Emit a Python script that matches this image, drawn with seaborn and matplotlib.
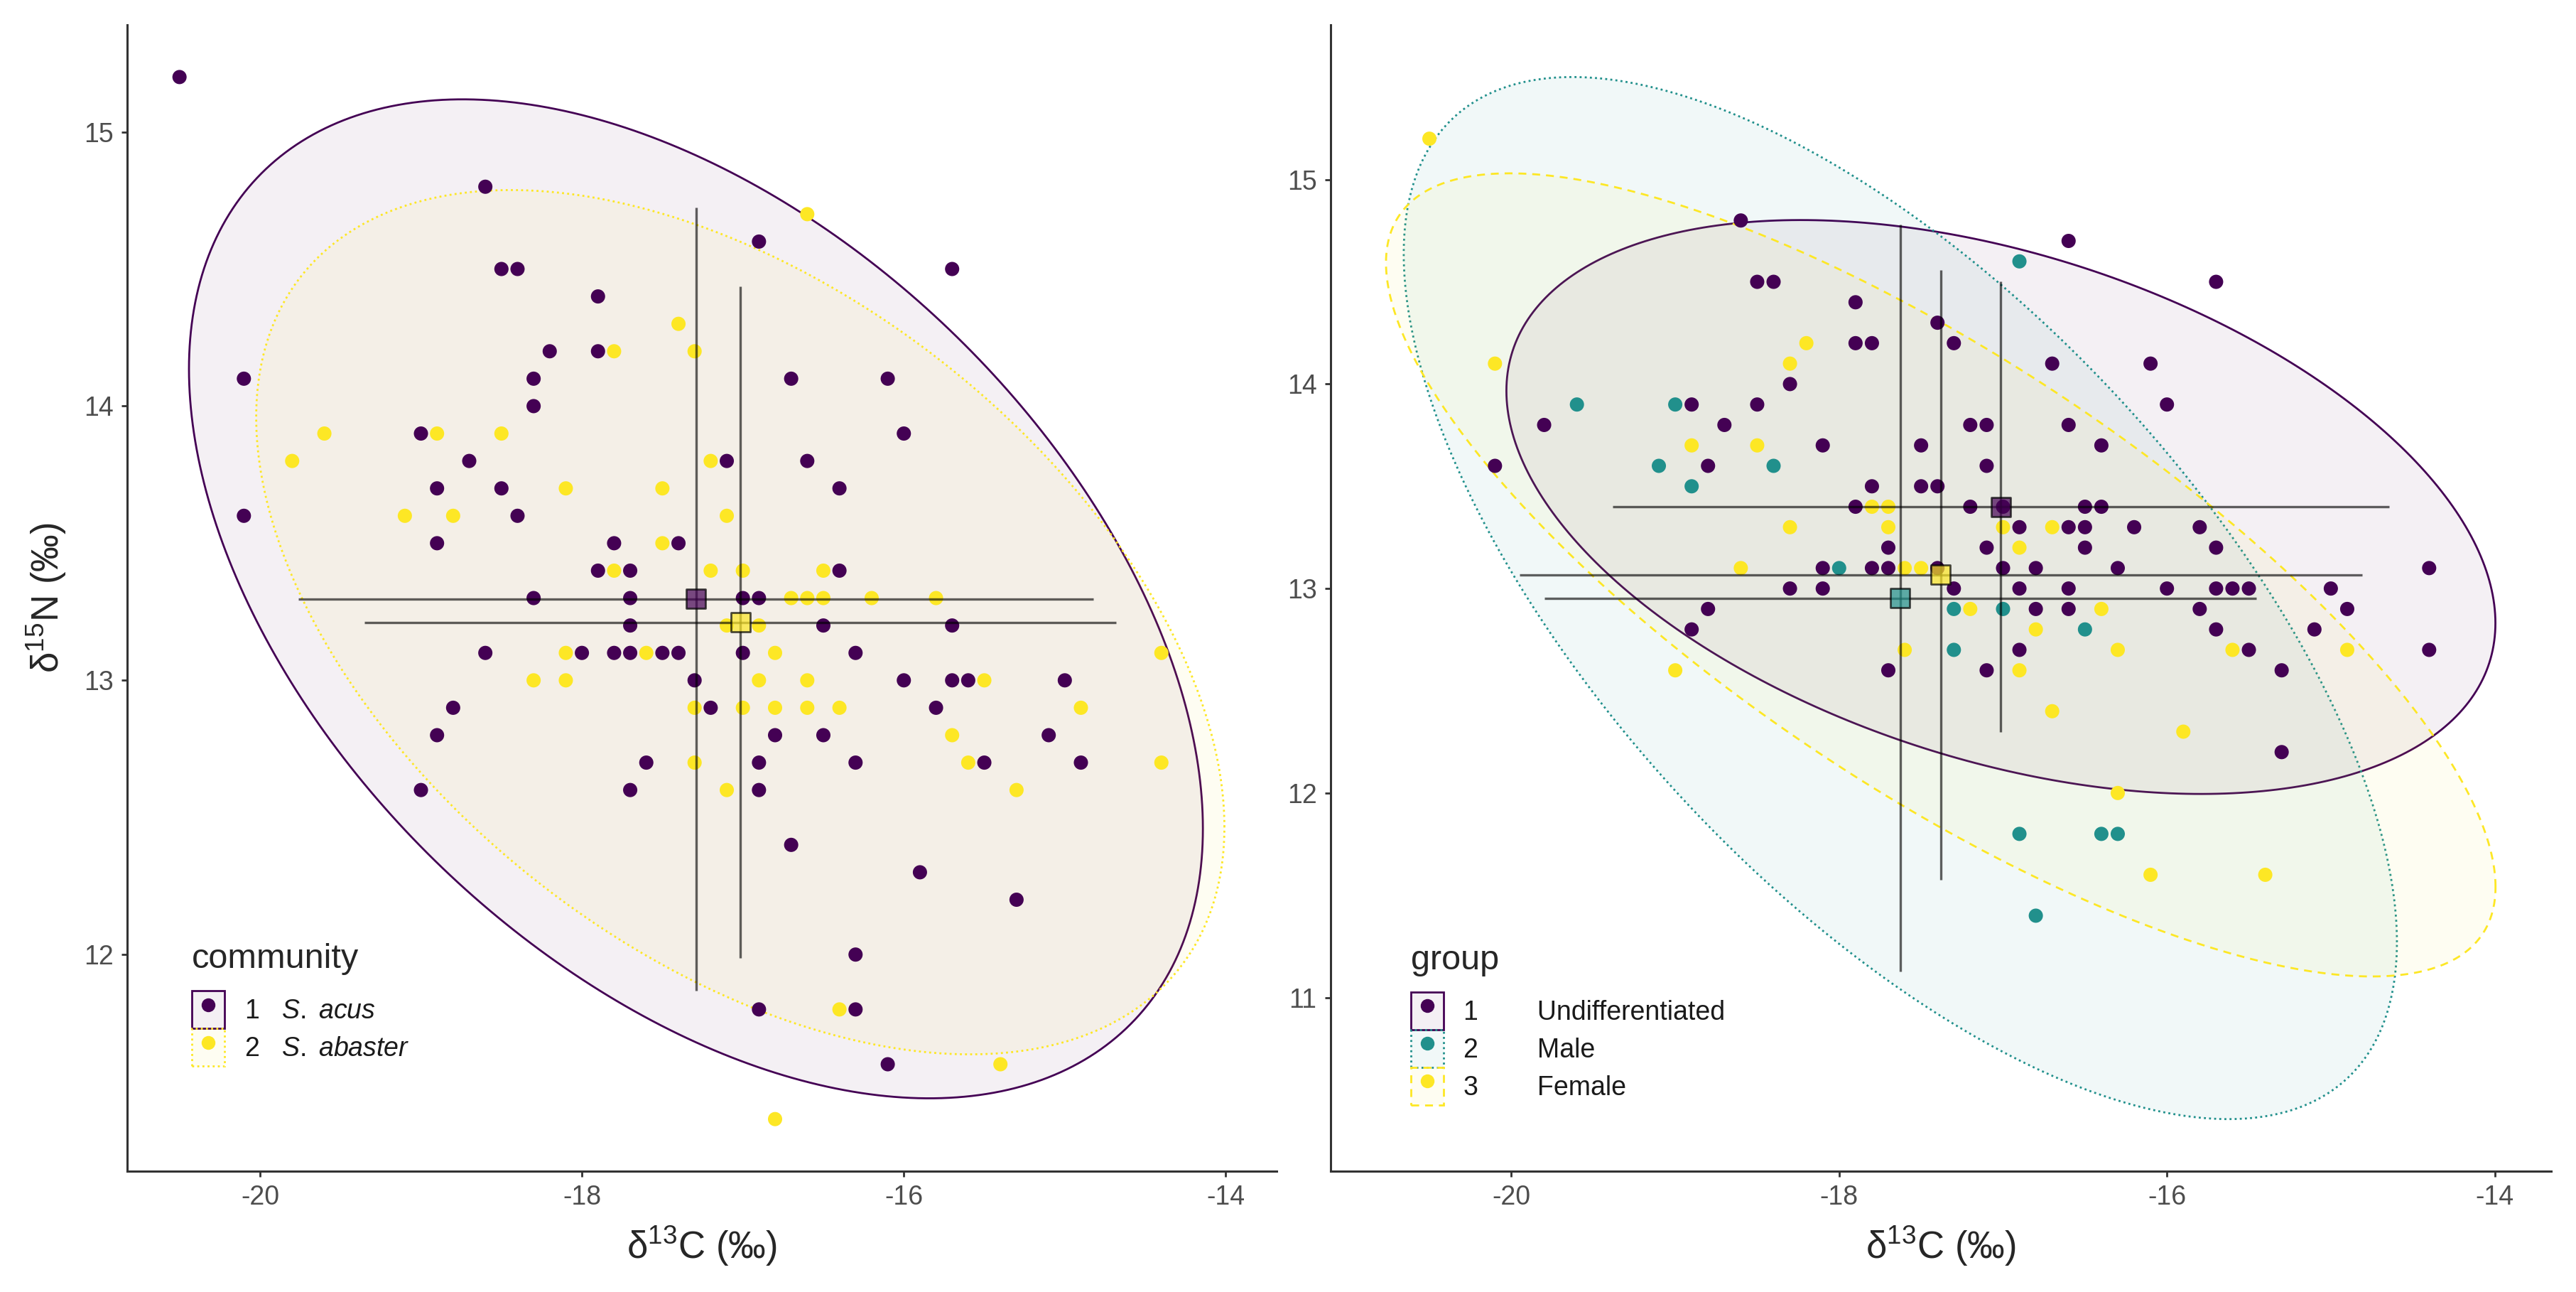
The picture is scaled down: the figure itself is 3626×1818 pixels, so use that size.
import numpy as np
import pandas as pd
import matplotlib
matplotlib.use("Agg")
import matplotlib.pyplot as plt
import matplotlib.patches as mpatches
from matplotlib.lines import Line2D
from matplotlib.colors import to_rgba
import seaborn as sns

# d13C / d15N values, row by row (d15N descending)
d13C = [
    -20.5,
    -18.6,
    -16.6,
    -16.9,
    -18.5, -18.4, -15.7,
    -17.9,
    -17.4,
    -18.2, -17.9, -17.8, -17.3,
    -20.1, -18.3, -16.7, -16.1,
    -18.3,
    -19.6, -19.0, -18.9, -18.5, -16.0,
    -19.8, -18.7, -17.2, -17.1, -16.6,
    -18.9, -18.5, -18.1, -17.5, -16.4,
    -20.1, -19.1, -18.8, -18.4, -17.1,
    -18.9, -17.8, -17.5, -17.4,
    -17.9, -17.8, -17.7, -17.2, -17.0, -16.5, -16.4,
    -18.3, -17.7, -17.0, -16.9, -16.7, -16.6, -16.5, -16.2, -15.8,
    -17.7, -17.1, -16.9, -16.5, -15.7,
    -18.6, -18.1, -18.0, -17.8, -17.7, -17.6, -17.5, -17.4, -17.0, -16.8, -16.3, -14.4,
    -18.3, -18.1, -17.3, -16.9, -16.6, -16.0, -15.7, -15.6, -15.5, -15.0,
    -18.8, -17.3, -17.2, -17.0, -16.8, -16.6, -16.4, -15.8, -14.9,
    -18.9, -16.8, -16.5, -15.7, -15.1,
    -17.6, -17.3, -16.9, -16.3, -15.6, -15.5, -14.9, -14.4,
    -19.0, -17.7, -17.1, -16.9, -15.3,
    -16.7,
    -15.9,
    -15.3,
    -16.3,
    -16.9, -16.4, -16.3,
    -16.1, -15.4,
    -16.8,
]
d15N = [
    15.2,
    14.8,
    14.7,
    14.6,
    14.5, 14.5, 14.5,
    14.4,
    14.3,
    14.2, 14.2, 14.2, 14.2,
    14.1, 14.1, 14.1, 14.1,
    14.0,
    13.9, 13.9, 13.9, 13.9, 13.9,
    13.8, 13.8, 13.8, 13.8, 13.8,
    13.7, 13.7, 13.7, 13.7, 13.7,
    13.6, 13.6, 13.6, 13.6, 13.6,
    13.5, 13.5, 13.5, 13.5,
    13.4, 13.4, 13.4, 13.4, 13.4, 13.4, 13.4,
    13.3, 13.3, 13.3, 13.3, 13.3, 13.3, 13.3, 13.3, 13.3,
    13.2, 13.2, 13.2, 13.2, 13.2,
    13.1, 13.1, 13.1, 13.1, 13.1, 13.1, 13.1, 13.1, 13.1, 13.1, 13.1, 13.1,
    13.0, 13.0, 13.0, 13.0, 13.0, 13.0, 13.0, 13.0, 13.0, 13.0,
    12.9, 12.9, 12.9, 12.9, 12.9, 12.9, 12.9, 12.9, 12.9,
    12.8, 12.8, 12.8, 12.8, 12.8,
    12.7, 12.7, 12.7, 12.7, 12.7, 12.7, 12.7, 12.7,
    12.6, 12.6, 12.6, 12.6, 12.6,
    12.4,
    12.3,
    12.2,
    12.0,
    11.8, 11.8, 11.8,
    11.6, 11.6,
    11.4,
]
# 1 = S. acus, 2 = S. abaster
community = [
    1,
    1,
    2,
    1,
    1, 1, 1,
    1,
    2,
    1, 1, 2, 2,
    1, 1, 1, 1,
    1,
    2, 1, 2, 2, 1,
    2, 1, 2, 1, 1,
    1, 1, 2, 2, 1,
    1, 2, 2, 1, 2,
    1, 1, 2, 1,
    1, 2, 1, 2, 2, 2, 1,
    1, 1, 1, 1, 2, 2, 2, 2, 2,
    1, 2, 2, 1, 1,
    1, 2, 1, 1, 1, 2, 1, 1, 1, 2, 1, 2,
    2, 2, 1, 2, 2, 1, 1, 1, 2, 1,
    1, 2, 1, 2, 2, 2, 2, 1, 2,
    1, 1, 1, 2, 1,
    1, 2, 1, 1, 2, 1, 1, 2,
    1, 1, 2, 1, 2,
    1,
    1,
    1,
    1,
    1, 2, 1,
    1, 2,
    2,
]
# 1 = Undifferentiated, 2 = Male, 3 = Female
group = [
    3,
    1,
    1,
    2,
    1, 1, 1,
    1,
    1,
    3, 1, 1, 1,
    3, 3, 1, 1,
    1,
    2, 2, 1, 1, 1,
    1, 1, 1, 1, 1,
    3, 3, 1, 1, 1,
    1, 2, 1, 2, 1,
    2, 1, 1, 1,
    1, 3, 3, 1, 1, 1, 1,
    3, 3, 3, 1, 3, 1, 1, 1, 1,
    1, 1, 3, 1, 1,
    3, 1, 2, 1, 1, 3, 3, 1, 1, 1, 1, 1,
    1, 1, 1, 1, 1, 1, 1, 1, 1, 1,
    1, 2, 3, 2, 1, 1, 3, 1, 1,
    1, 3, 2, 1, 1,
    3, 2, 1, 3, 3, 1, 3, 1,
    3, 1, 1, 3, 1,
    3,
    3,
    1,
    3,
    2, 2, 2,
    3, 3,
    2,
]

community_levels = [1, 2]
community_names = ["S. acus", "S. abaster"]
group_levels = [1, 2, 3]
group_names = ["Undifferentiated", "Male", "Female"]

VIRIDIS2 = {1: "#440154", 2: "#FDE725"}
VIRIDIS3 = {1: "#440154", 2: "#21908C", 3: "#FDE725"}
DOTTED = (0, (1, 1.6))
DASHED = (0, (4, 3))

df = pd.DataFrame({"d13C": d13C, "d15N": d15N,
                   "community": community, "group": group})

sns.set_style("ticks")
plt.rcParams["font.family"] = ["Liberation Sans", "DejaVu Sans"]
plt.rcParams["mathtext.fontset"] = "custom"
plt.rcParams["mathtext.rm"] = "Liberation Sans"
plt.rcParams["mathtext.it"] = "Liberation Sans:italic"
plt.rcParams["axes.unicode_minus"] = False
plt.rcParams["axes.linewidth"] = 1.1
plt.rcParams["axes.edgecolor"] = "#333333"


def ellipse_xy(x, y, level=0.95, npts=361):
    # same recipe as ggplot2 stat_ellipse(type = "norm")
    pts = np.column_stack([x, y])
    centre = pts.mean(axis=0)
    chol = np.linalg.cholesky(np.cov(pts, rowvar=False)).T
    dfd = len(pts) - 1
    fq = dfd / 2 * ((1 - level) ** (-2 / dfd) - 1)  # F(2, dfd) quantile
    radius = np.sqrt(2 * fq)
    ang = np.linspace(0, 2 * np.pi, npts)
    circle = np.column_stack([np.cos(ang), np.sin(ang)])
    ell = centre + radius * circle @ chol
    return ell[:, 0], ell[:, 1]


def draw_panel(ax, key, levels, palette, styles):
    xs, ys = list(df.d13C), list(df.d15N)
    for lev, ls in zip(levels, styles):
        sub = df[df[key] == lev]
        ex, ey = ellipse_xy(sub.d13C.values, sub.d15N.values)
        ax.fill(ex, ey, facecolor=to_rgba(palette[lev], 0.06),
                edgecolor=palette[lev], linestyle=ls, lw=1.0, zorder=1)
        xs += list(ex)
        ys += list(ey)

    sns.scatterplot(data=df, x="d13C", y="d15N", hue=key, palette=palette,
                    s=52, linewidth=0, legend=False, ax=ax, zorder=2)

    stats = df.groupby(key).agg(mC=("d13C", "mean"), sdC=("d13C", "std"),
                                mN=("d15N", "mean"), sdN=("d15N", "std")).reset_index()
    ax.hlines(stats.mN, stats.mC - 1.96 * stats.sdC, stats.mC + 1.96 * stats.sdC,
              color="black", alpha=0.62, lw=1.2, zorder=3)
    ax.vlines(stats.mC, stats.mN - 1.96 * stats.sdN, stats.mN + 1.96 * stats.sdN,
              color="black", alpha=0.62, lw=1.2, zorder=3)
    sns.scatterplot(data=stats, x="mC", y="mN", hue=key, palette=palette,
                    marker="s", s=95, edgecolor="black", linewidth=1.0,
                    alpha=0.7, legend=False, ax=ax, zorder=4)
    xs += list(stats.mC - 1.96 * stats.sdC) + list(stats.mC + 1.96 * stats.sdC)
    ys += list(stats.mN - 1.96 * stats.sdN) + list(stats.mN + 1.96 * stats.sdN)

    # ggplot-like 5% expansion
    x0, x1 = min(xs), max(xs)
    y0, y1 = min(ys), max(ys)
    ax.set_xlim(x0 - 0.05 * (x1 - x0), x1 + 0.05 * (x1 - x0))
    ax.set_ylim(y0 - 0.05 * (y1 - y0), y1 + 0.05 * (y1 - y0))
    ax.set_xticks([-20, -18, -16, -14])
    ax.set_yticks(np.arange(np.ceil(ax.get_ylim()[0]), ax.get_ylim()[1], 1.0))
    ax.tick_params(labelsize=13.5, labelcolor="#4D4D4D", color="#333333",
                   length=3, width=1.0, pad=4)
    sns.despine(ax=ax)
    ax.set_xlabel("δ$^{13}$C (‰)", fontsize=19, labelpad=7)

    handles = []
    for lev, ls in zip(levels, styles):
        box = mpatches.Patch(facecolor=to_rgba(palette[lev], 0.06),
                             edgecolor=palette[lev], linestyle=ls, lw=1.0)
        dot = Line2D([], [], marker="o", linestyle="none", markersize=7,
                     markerfacecolor=palette[lev], markeredgewidth=0)
        handles.append((box, dot))
    return handles


fig = plt.figure(figsize=(18.13, 9.09), dpi=200)
ax1 = fig.add_axes([0.0494, 0.0935, 0.4462, 0.8872])
ax2 = fig.add_axes([0.5165, 0.0935, 0.4738, 0.8872])

left_labels = [f"{lev}   " + "$\\mathit{" + n.replace(" ", "\\ ") + "}$"
               for lev, n in zip(community_levels, community_names)]
h1 = draw_panel(ax1, "community", community_levels, VIRIDIS2, ["-", DOTTED])
ax1.set_ylabel("δ$^{15}$N (‰)", fontsize=19, labelpad=8)

right_labels = [f"{lev}" + " " * 8 + n for lev, n in zip(group_levels, group_names)]
h2 = draw_panel(ax2, "group", group_levels, VIRIDIS3, ["-", DOTTED, DASHED])
ax2.set_ylabel("")

for ax, h, l, title, anchor in [(ax1, h1, left_labels, "community", (0.056, 0.199)),
                                (ax2, h2, right_labels, "group", (0.066, 0.198))]:
    leg = ax.legend(h, l, title=title, loc="upper left", bbox_to_anchor=anchor,
                    frameon=False, fontsize=13.5, title_fontsize=17.5,
                    handlelength=1.23, handleheight=1.8, labelspacing=0.0,
                    handletextpad=0.75, borderpad=0, borderaxespad=0,
                    alignment="left")
    leg._legend_box.sep = 8  # gap between legend title and keys, as in ggplot
    for t in leg.get_texts():
        t.set_color("#1a1a1a")

fig.savefig("out.png", dpi=200)
